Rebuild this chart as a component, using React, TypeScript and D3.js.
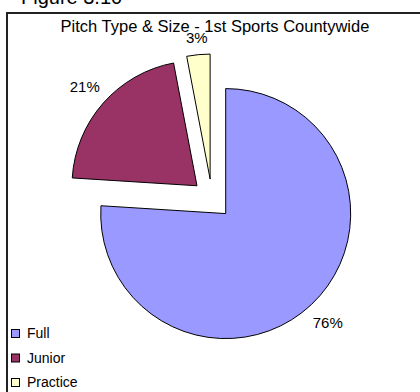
import React from "react";
import * as d3 from "d3";

const categories = ["Full", "Junior", "Practice"];
const values = [76, 21, 3];
const colors = ["#9999FF", "#993366", "#FFFFCC"];
const title = "Pitch Type & Size - 1st Sports Countywide";
const figureLabel = "Figure 3.10";

export default function App() {
  const W = 420;
  const H = 392;
  const cx = 212;
  const cy = 199;
  const r = 125;
  const explode = 20;
  const gap = 10;

  const pie = d3.pie<number>().sort(null).value((d) => d);
  const arcs = pie(values);
  const arcGen = d3.arc<d3.PieArcDatum<number>>().innerRadius(0).outerRadius(r);
  const total = d3.sum(values);

  return (
    <div style={{ position: "fixed", left: 0, top: 0, width: W, height: H, background: "#fff" }}>
      <svg width={W} height={H} style={{ display: "block" }} fontFamily="'Liberation Sans', Arial, sans-serif">
        <rect x={0} y={0} width={W} height={H} fill="#fff" />
        <text x={21} y={4} fontSize={20} fill="#000">{figureLabel}</text>
        <path d={`M7,${H} L7,13 L${W},13`} fill="none" stroke="#222" strokeWidth={2} />
        <text x={215} y={32} fontSize={16.5} textAnchor="middle" fill="#000">{title}</text>
        {arcs.map((a, i) => {
          const mid = (a.startAngle + a.endAngle) / 2;
          const sx = Math.sin(mid);
          const sy = -Math.cos(mid);
          const dx = sx * explode;
          const dy = sy * explode;
          const label = `${Math.round((values[i] / total) * 100)}%`;
          const tw = label.length * 9.5;
          const th = 12;
          const lr = r + gap + Math.abs(sx) * tw / 2 + Math.abs(sy) * th / 2;
          const lx = sx * lr;
          const ly = sy * lr;
          return (
            <g key={categories[i]} transform={`translate(${cx + dx},${cy + dy})`}>
              <path d={arcGen(a) || ""} fill={colors[i]} stroke="#000" strokeWidth={1} />
              <text x={lx} y={ly} fontSize={15} textAnchor="middle" dominantBaseline="central" fill="#000">
                {label}
              </text>
            </g>
          );
        })}
        {categories.map((c, i) => (
          <g key={c} transform={`translate(11,${329 + i * 24.5})`}>
            <rect x={0.5} y={0.5} width={8} height={8} fill={colors[i]} stroke="#000" strokeWidth={1} />
            <text x={16} y={9} fontSize={14} fill="#000">{c}</text>
          </g>
        ))}
      </svg>
    </div>
  );
}
